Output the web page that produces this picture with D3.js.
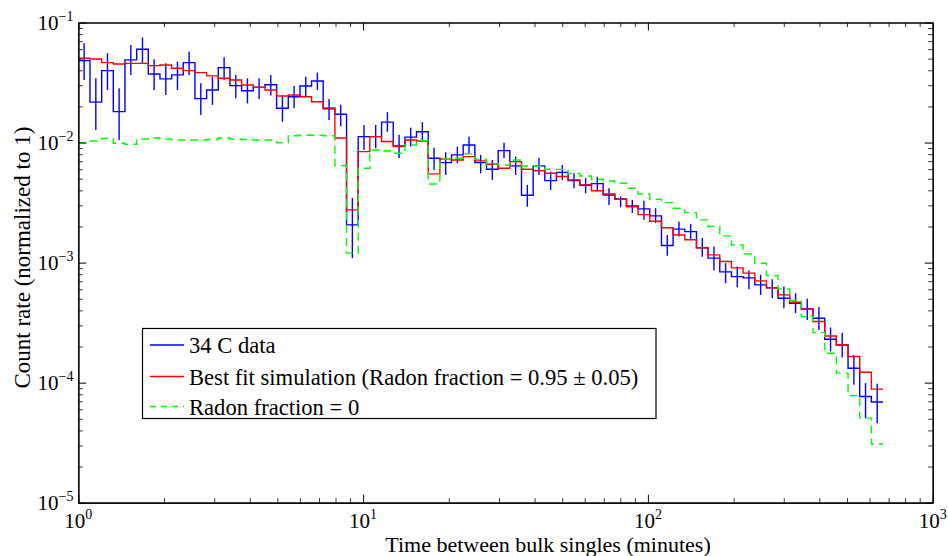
<!DOCTYPE html>
<html><head><meta charset="utf-8">
<script src="https://cdn.jsdelivr.net/npm/d3@7"></script>
<style>
body{margin:0;background:#fff}
svg{display:block;background:#fff}
text{font-family:"Liberation Serif","Times New Roman",serif;fill:#000}
</style>
</head><body>
<svg id="c" width="948" height="556"></svg>
<script>
// ---- data ----
const binEdges = [1, 1.099, 1.208, 1.327, 1.458, 1.603, 1.761, 1.935, 2.127, 2.337, 2.568, 2.822, 3.101, 3.408, 3.745, 4.115, 4.522, 4.969, 5.461, 6.001, 6.592, 7.244, 7.960, 8.747, 9.612, 10.56, 11.61, 12.76, 14.02, 15.40, 16.93, 18.60, 20.44, 22.46, 24.68, 27.12, 29.81, 32.75, 35.99, 39.55, 43.45, 47.75, 52.48, 57.67, 63.37, 69.64, 76.52, 84.09, 92.41, 101.5, 111.6, 122.6, 134.8, 148.1, 162.7, 178.8, 196.5, 215.9, 237.3, 260.8, 286.4, 314.8, 345.9, 380.1, 417.7, 459.0, 504.4, 554.3, 609.1, 669.3];

const dataRate = [0.0481, 0.0217, 0.0397, 0.0181, 0.0488, 0.0598, 0.0372, 0.0339, 0.0366, 0.0463,
 0.0232, 0.0274, 0.0421, 0.0298, 0.0270, 0.0288, 0.0303, 0.0193, 0.0241, 0.0296,
 0.0326, 0.0191, 0.0172, 0.00206, 0.0112, 0.0112, 0.0148, 0.00938, 0.0111, 0.0123,
 0.00740, 0.00680, 0.00789, 0.00955, 0.00680, 0.00600, 0.00857, 0.00639, 0.00364, 0.00639,
 0.00482, 0.00564, 0.00483, 0.00441, 0.00455, 0.00366, 0.00339, 0.00296, 0.00280, 0.00245,
 0.00139, 0.00190, 0.00181, 0.00133, 0.00109, 0.000837, 0.000764, 0.000746, 0.000652, 0.000616,
 0.000505, 0.000459, 0.000411, 0.000344, 0.000230, 0.000206, 0.000132, 0.0000766, 0.0000689];

const dataErrHigh = [0.0671, 0.0343, 0.0555, 0.0283, 0.0650, 0.0753, 0.0494, 0.0457, 0.0472, 0.0571,
 0.0312, 0.0354, 0.0513, 0.0366, 0.0343, 0.0343, 0.0366, 0.0249, 0.0296, 0.0354,
 0.0382, 0.0230, 0.0206, 0.00346, 0.0140, 0.0140, 0.0179, 0.0116, 0.0133, 0.0148,
 0.00907, 0.00830, 0.00925, 0.0112, 0.00789, 0.00716, 0.00998, 0.00764, 0.00444, 0.00748,
 0.00573, 0.00651, 0.00555, 0.00505, 0.00520, 0.00416, 0.00355, 0.00333, 0.00328, 0.00284,
 0.00170, 0.00219, 0.00210, 0.00160, 0.00136, 0.000989, 0.000927, 0.000858, 0.000791, 0.000728,
 0.000631, 0.000556, 0.000499, 0.000426, 0.000288, 0.000261, 0.000170, 0.0000991, 0.0000977];

const dataErrLow = [0.0332, 0.0127, 0.0274, 0.0105, 0.0366, 0.0457, 0.0274, 0.0249, 0.0274, 0.0366,
 0.0170, 0.0206, 0.0332, 0.0234, 0.0212, 0.0230, 0.0246, 0.0149, 0.0193, 0.0241,
 0.0274, 0.0154, 0.0137, 0.00109, 0.00868, 0.00897, 0.0123, 0.00740, 0.00925, 0.0102,
 0.00591, 0.00537, 0.00673, 0.00815, 0.00555, 0.00489, 0.00740, 0.00537, 0.00292, 0.00537,
 0.00403, 0.00489, 0.00416, 0.00378, 0.00390, 0.00302, 0.00289, 0.00259, 0.00227, 0.00213,
 0.00114, 0.00165, 0.00157, 0.00112, 0.000858, 0.000674, 0.000624, 0.000601, 0.000538, 0.000506,
 0.000417, 0.000379, 0.000333, 0.000275, 0.000182, 0.000162, 0.0000959, 0.0000506, 0.0000460];

const fitRate = [0.0504, 0.0497, 0.0463, 0.0451, 0.0457, 0.0457, 0.0437, 0.0443, 0.0416, 0.0397,
 0.0382, 0.0359, 0.0343, 0.0332, 0.0302, 0.0289, 0.0274, 0.0244, 0.0249, 0.0241,
 0.0219, 0.0194, 0.0109, 0.00275, 0.00840, 0.0112, 0.0102, 0.00925, 0.0105, 0.0103,
 0.00548, 0.00730, 0.00716, 0.00764, 0.00703, 0.00660, 0.00611, 0.00693, 0.00600, 0.00583,
 0.00555, 0.00522, 0.00489, 0.00444, 0.00397, 0.00373, 0.00338, 0.00291, 0.00251, 0.00221,
 0.00195, 0.00170, 0.00155, 0.00133, 0.00116, 0.00102, 0.000904, 0.000817, 0.000705, 0.000616,
 0.000538, 0.000467, 0.000409, 0.000323, 0.000245, 0.000207, 0.000165, 0.000122, 0.0000883];

const radonZeroRate = [0.00998, 0.0103, 0.0108, 0.00987, 0.00968, 0.0107, 0.0109, 0.0107, 0.0105, 0.0105,
 0.0105, 0.0106, 0.0109, 0.0107, 0.0106, 0.0105, 0.0105, 0.00998, 0.0114, 0.0115,
 0.0115, 0.0114, 0.00643, 0.00120, 0.00611, 0.00868, 0.00851, 0.00815, 0.00955, 0.0104,
 0.00452, 0.00730, 0.00740, 0.00804, 0.00726, 0.00664, 0.00651, 0.00716, 0.00638, 0.00638,
 0.00600, 0.00598, 0.00553, 0.00527, 0.00495, 0.00479, 0.00458, 0.00416, 0.00373, 0.00337,
 0.00316, 0.00284, 0.00261, 0.00227, 0.00200, 0.00167, 0.00140, 0.00118, 0.000989, 0.000780,
 0.000604, 0.000483, 0.000355, 0.000261, 0.000176, 0.000120, 0.0000781, 0.0000506, 0.0000308];

const xTickExponents = [0, 1, 2, 3];
const yTickExponents = [-5, -4, -3, -2, -1];
const legendLabels = ["34 C data", "Best fit simulation (Radon fraction = 0.95 \u00b1 0.05)", "Radon fraction = 0"];
const xTitle = "Time between bulk singles (minutes)";
const yTitle = "Count rate (normalized to 1)";

// ---- layout ----
const M = {left: 78.3, right: 932.7, top: 22.5, bottom: 502.7};
const svg = d3.select("#c");
const x = d3.scaleLog().domain([1, 1000]).range([M.left, M.right]);
const y = d3.scaleLog().domain([1e-5, 1e-1]).range([M.bottom, M.top]);

const xMajor = xTickExponents.map(e => Math.pow(10, e));
const yMajor = yTickExponents.map(e => Math.pow(10, e));
const xMinor = [], yMinor = [];
for (let e = 0; e < 3; e++) for (let m = 2; m <= 9; m++) xMinor.push(m * Math.pow(10, e));
for (let e = -5; e < -1; e++) for (let m = 2; m <= 9; m++) yMinor.push(m * Math.pow(10, e));

// series
function stairs(vals) {
  const pts = vals.map((v, i) => [binEdges[i], v]);
  pts.push([binEdges[vals.length], vals[vals.length - 1]]);
  return d3.line().x(d => x(d[0])).y(d => y(d[1])).curve(d3.curveStepAfter)(pts);
}
const plot = svg.append("g");
plot.selectAll("line.err").data(dataRate).enter().append("line")
  .attr("class", "err")
  .attr("x1", (d, i) => x(Math.sqrt(binEdges[i] * binEdges[i + 1])))
  .attr("x2", (d, i) => x(Math.sqrt(binEdges[i] * binEdges[i + 1])))
  .attr("y1", (d, i) => y(dataErrLow[i]))
  .attr("y2", (d, i) => y(dataErrHigh[i]))
  .attr("stroke", "#0000ff").attr("stroke-width", 1.4);
plot.append("path").attr("d", stairs(dataRate)).attr("fill", "none")
  .attr("stroke", "#0000ff").attr("stroke-width", 1.4);
plot.append("path").attr("d", stairs(fitRate)).attr("fill", "none")
  .attr("stroke", "#ff0000").attr("stroke-width", 1.4);
plot.append("path").attr("d", stairs(radonZeroRate)).attr("fill", "none")
  .attr("stroke", "#00ff00").attr("stroke-width", 1.4).attr("stroke-dasharray", "8,5");

// axes (ticks inside, all four sides)
function styleAxis(g) {
  g.selectAll("path.domain").attr("stroke", "#000").attr("stroke-width", 1.2);
  g.selectAll(".tick line").attr("stroke", "#000").attr("stroke-width", 1);
  g.selectAll(".tick text").remove();
}
const axes = svg.append("g");
[[d3.axisBottom(x), `translate(0,${M.bottom})`, xMajor, xMinor],
 [d3.axisTop(x), `translate(0,${M.top})`, xMajor, xMinor],
 [d3.axisLeft(y), `translate(${M.left},0)`, yMajor, yMinor],
 [d3.axisRight(y), `translate(${M.right},0)`, yMajor, yMinor]].forEach(([ax, tr, maj, min]) => {
  const gMin = axes.append("g").attr("transform", tr)
    .call(ax.tickValues(min).tickSizeInner(-4.5).tickSizeOuter(0).tickFormat(""));
  styleAxis(gMin);
  gMin.selectAll(".tick line").attr("stroke", "#333");
  const gMaj = axes.append("g").attr("transform", tr)
    .call(ax.tickValues(maj).tickSizeInner(-8).tickSizeOuter(0).tickFormat(""));
  styleAxis(gMaj);
});

// tick labels
xTickExponents.forEach(e => {
  const t = svg.append("text").attr("x", x(Math.pow(10, e))).attr("y", 528)
    .attr("text-anchor", "middle").attr("font-size", 21);
  t.append("tspan").text("10");
  t.append("tspan").attr("dy", -9).attr("font-size", 14).text(String(e));
});
yTickExponents.forEach(e => {
  const t = svg.append("text").attr("x", 73.5).attr("y", y(Math.pow(10, e)) + 7)
    .attr("text-anchor", "end").attr("font-size", 21);
  t.append("tspan").text("10");
  t.append("tspan").attr("dy", -9).attr("font-size", 14).text("\u2212" + Math.abs(e));
});

// titles
svg.append("text").attr("x", 548).attr("y", 551.5)
  .attr("text-anchor", "middle").attr("font-size", 22).text(xTitle);
svg.append("text").attr("transform", `translate(30,${(M.top + M.bottom) / 2 - 5}) rotate(-90)`)
  .attr("text-anchor", "middle").attr("font-size", 23).text(yTitle);

// legend
const lg = svg.append("g");
lg.append("rect").attr("x", 142.5).attr("y", 328.5).attr("width", 513.5).attr("height", 90)
  .attr("fill", "#fff").attr("stroke", "#000").attr("stroke-width", 1.2);
const legColors = ["#0000ff", "#ff0000", "#00ff00"];
const legRows = [345, 376.5, 406.5];
legendLabels.forEach((lab, i) => {
  const ln = lg.append("line").attr("x1", 150).attr("x2", 184)
    .attr("y1", legRows[i]).attr("y2", legRows[i])
    .attr("stroke", legColors[i]).attr("stroke-width", 1.3);
  if (i === 2) ln.attr("stroke-dasharray", "6,5");
  lg.append("text").attr("x", 189).attr("y", legRows[i] + 8).attr("font-size", 22.6).text(lab);
});
</script>
</body></html>
